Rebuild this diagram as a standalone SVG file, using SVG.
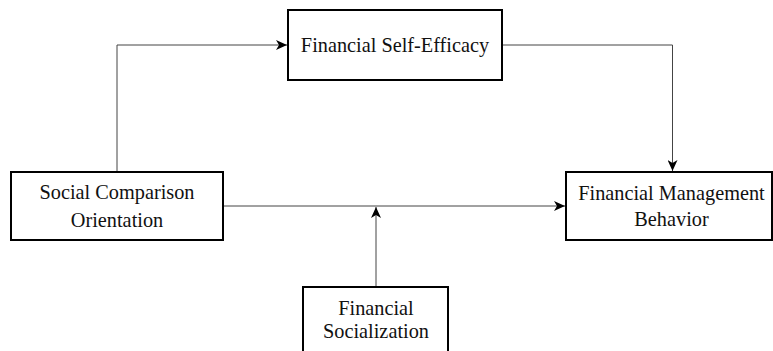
<svg xmlns="http://www.w3.org/2000/svg" width="773" height="351" viewBox="0 0 773 351">
<defs>
<marker id="arr" markerWidth="12" markerHeight="10" refX="11" refY="5" orient="auto" markerUnits="userSpaceOnUse">
<path d="M0,0 L11,5 L0,10 L3,5 Z" fill="#000"/>
</marker>
<style>
.box{fill:#fff;stroke:#000;stroke-width:2}
.lbl{font-family:"Liberation Serif","Times New Roman",serif;font-size:20.3px;fill:#111;text-anchor:middle}
.con{fill:none;stroke:#444;stroke-width:1}
</style>
</defs>
<rect width="773" height="351" fill="#fff"/>
<g id="connectors">
<path class="con" d="M117,172 V45 H287" marker-end="url(#arr)"/>
<path class="con" d="M502,45 H672.5 V171" marker-end="url(#arr)"/>
<path class="con" d="M223,206 H565" marker-end="url(#arr)"/>
<path class="con" d="M376,287 V207" marker-end="url(#arr)"/>
</g>
<g id="fse">
<rect class="box" x="288" y="10" width="214" height="70"/>
<text class="lbl" x="395" y="52">Financial Self-Efficacy</text>
</g>
<g id="sco">
<rect class="box" x="11" y="172" width="212" height="68"/>
<text class="lbl" x="117" y="199">Social Comparison</text>
<text class="lbl" x="117" y="227">Orientation</text>
</g>
<g id="fmb">
<rect class="box" x="566" y="172" width="206" height="68"/>
<text class="lbl" x="671.5" y="200">Financial Management</text>
<text class="lbl" x="671.5" y="226">Behavior</text>
</g>
<g id="fs">
<rect class="box" x="303" y="287" width="145" height="80"/>
<text class="lbl" x="376" y="315">Financial</text>
<text class="lbl" x="376" y="338">Socialization</text>
</g>
</svg>
